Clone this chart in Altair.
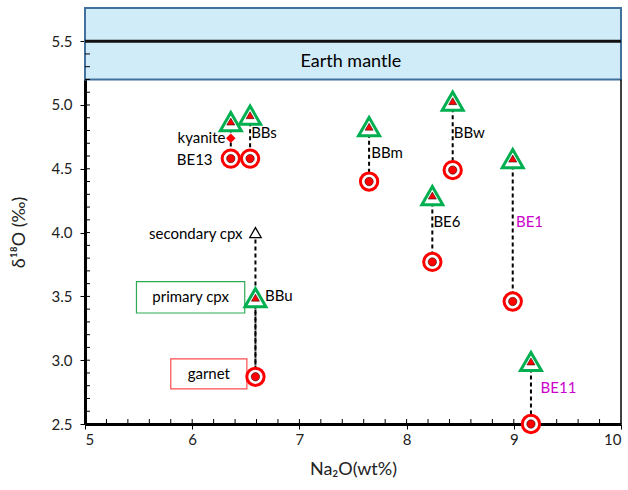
import altair as alt
import pandas as pd

samples = ["BE13", "BBs", "BBm", "BBw", "BE6", "BE1", "BE11", "BBu"]
na2o = [6.36, 6.54, 7.65, 8.43, 8.24, 8.99, 9.16, 6.59]
cpx_d18o = [4.87, 4.92, 4.83, 5.03, 4.29, 4.58, 2.99, 3.49]
grt_d18o = [4.58, 4.58, 4.40, 4.49, 3.77, 3.46, 2.50, 2.87]

sec_cpx_x = [6.59]
sec_cpx_y = [4.00]
kyanite_x = [6.36]
kyanite_y = [4.74]

label_text = ["kyanite", "BE13", "BBs", "BBm", "BBw", "BE6", "BE1", "BE11", "BBu", "secondary cpx"]
label_x = [6.31, 6.19, 6.55, 7.67, 8.44, 8.25, 9.02, 9.25, 6.68, 6.47]
label_y = [4.74, 4.57, 4.78, 4.62, 4.78, 4.08, 4.08, 2.78, 3.50, 3.99]
label_align = ["right", "right", "left", "left", "left", "left", "left", "left", "left", "right"]
label_color = ["black", "black", "black", "black", "black", "black", "#cc00cc", "#cc00cc", "black", "black"]

box_text = ["primary cpx", "garnet"]
box_x1 = [5.48, 5.80]
box_x2 = [6.49, 6.51]
box_y1 = [3.37, 2.775]
box_y2 = [3.615, 3.01]
box_color = ["#2eaa55", "#ff4d4d"]

mantle_lo, mantle_hi, mantle_line = 5.2, 5.76, 5.5
y_ticks = [2.5, 3.0, 3.5, 4.0, 4.5, 5.0, 5.5]
x_ticks = [5, 6, 7, 8, 9, 10]
x_minor = [round(5 + 0.2 * i, 1) for i in range(1, 25)]
y_minor = [round(2.5 + 0.1 * i, 1) for i in range(1, 30)]

FONT = "Lato"
xs = alt.Scale(domain=[5, 10], nice=False, zero=False)
ys = alt.Scale(domain=[2.5, 5.76], nice=False, zero=False)

pairs = pd.DataFrame({"s": samples, "x": na2o, "cpx": cpx_d18o, "grt": grt_d18o})
sec = pd.DataFrame({"x": sec_cpx_x, "y": sec_cpx_y, "g": grt_d18o[-1:]})
kya = pd.DataFrame({"x": kyanite_x, "y": kyanite_y})
labels = pd.DataFrame({"t": label_text, "x": label_x, "y": label_y, "a": label_align, "c": label_color})
boxes = pd.DataFrame({"t": box_text, "x1": box_x1, "x2": box_x2, "y1": box_y1, "y2": box_y2, "c": box_color})
band = pd.DataFrame({"x1": [5], "x2": [10], "y1": [mantle_lo], "y2": [mantle_hi], "yl": [mantle_line]})

band_l = alt.Chart(band).mark_rect(fill="#d0ecf9", stroke="#41719c", strokeWidth=2).encode(
    x=alt.X("x1:Q", scale=xs, axis=alt.Axis(values=x_ticks, title="Na₂O(wt%)", format="d")),
    x2="x2:Q",
    y=alt.Y("y1:Q", scale=ys, axis=alt.Axis(values=y_ticks, title="δ¹⁸O (‰)", format=".1f")),
    y2="y2:Q")
band_line = alt.Chart(band).mark_rule(color="#111", strokeWidth=3).encode(
    x=alt.X("x1:Q", scale=xs), x2="x2:Q", y=alt.Y("yl:Q", scale=ys))
band_text = alt.Chart(pd.DataFrame({"t": ["Earth mantle"], "x": [7.48], "y": [5.335]})).mark_text(
    font=FONT, fontSize=18, color="black").encode(x=alt.X("x:Q", scale=xs), y=alt.Y("y:Q", scale=ys), text="t:N")

right_border = alt.Chart(pd.DataFrame({"x": [10], "y1": [2.5], "y2": [mantle_lo]})).mark_rule(
    color="black", strokeWidth=1.5).encode(x=alt.X("x:Q", scale=xs), y=alt.Y("y1:Q", scale=ys), y2="y2:Q")

xminor = alt.Chart(pd.DataFrame({"x": x_minor})).mark_rule(color="black", strokeWidth=1).encode(
    x=alt.X("x:Q", scale=xs), y=alt.value(411), y2=alt.value(416))
yminor = alt.Chart(pd.DataFrame({"y": y_minor})).mark_rule(color="black", strokeWidth=1).encode(
    y=alt.Y("y:Q", scale=ys), x=alt.value(0), x2=alt.value(5))

dash = alt.Chart(pairs).mark_rule(color="black", strokeWidth=2, strokeDash=[4, 3]).encode(
    x=alt.X("x:Q", scale=xs), y=alt.Y("cpx:Q", scale=ys), y2="grt:Q")
dash2 = alt.Chart(sec).mark_rule(color="black", strokeWidth=2, strokeDash=[4, 3]).encode(
    x=alt.X("x:Q", scale=xs), y=alt.Y("y:Q", scale=ys), y2="g:Q")

tri_o = alt.Chart(pairs).mark_point(shape="triangle-up", size=440, filled=True, fill="white",
                                    stroke="#00b050", strokeWidth=3, opacity=1).encode(
    x=alt.X("x:Q", scale=xs), y=alt.Y("cpx:Q", scale=ys))
tri_i = alt.Chart(pairs).mark_point(shape="triangle-up", size=65, filled=True, fill="red",
                                    stroke="black", strokeWidth=0.5, opacity=1).encode(
    x=alt.X("x:Q", scale=xs), y=alt.Y("cpx:Q", scale=ys))
cir_o = alt.Chart(pairs).mark_point(shape="circle", size=300, filled=True, fill="white",
                                    stroke="red", strokeWidth=3, opacity=1).encode(
    x=alt.X("x:Q", scale=xs), y=alt.Y("grt:Q", scale=ys))
cir_i = alt.Chart(pairs).mark_point(shape="circle", size=70, filled=True, fill="red",
                                    stroke="black", strokeWidth=0.5, opacity=1).encode(
    x=alt.X("x:Q", scale=xs), y=alt.Y("grt:Q", scale=ys))
sec_m = alt.Chart(sec).mark_point(shape="triangle-up", size=130, filled=True, fill="white",
                                  stroke="black", strokeWidth=1.3, opacity=1).encode(
    x=alt.X("x:Q", scale=xs), y=alt.Y("y:Q", scale=ys))
kya_m = alt.Chart(kya).mark_point(shape="diamond", size=45, filled=True, fill="red",
                                  stroke="red", opacity=1).encode(
    x=alt.X("x:Q", scale=xs), y=alt.Y("y:Q", scale=ys))

txt_l = alt.Chart(labels[labels.a == "left"]).mark_text(font=FONT, fontSize=15, align="left",
                                                        baseline="middle").encode(
    x=alt.X("x:Q", scale=xs), y=alt.Y("y:Q", scale=ys), text="t:N",
    color=alt.Color("c:N", scale=None))
txt_r = alt.Chart(labels[labels.a == "right"]).mark_text(font=FONT, fontSize=15, align="right",
                                                         baseline="middle").encode(
    x=alt.X("x:Q", scale=xs), y=alt.Y("y:Q", scale=ys), text="t:N",
    color=alt.Color("c:N", scale=None))

box_r = alt.Chart(boxes).mark_rect(fill="white", strokeWidth=1.2).encode(
    x=alt.X("x1:Q", scale=xs), x2="x2:Q", y=alt.Y("y1:Q", scale=ys), y2="y2:Q",
    stroke=alt.Stroke("c:N", scale=None))
box_t = alt.Chart(boxes).transform_calculate(xm="(datum.x1+datum.x2)/2", ym="(datum.y1+datum.y2)/2").mark_text(
    font=FONT, fontSize=15, color="black", baseline="middle").encode(
    x=alt.X("xm:Q", scale=xs), y=alt.Y("ym:Q", scale=ys), text="t:N")

chart = alt.layer(
    band_l, band_line, band_text, right_border, xminor, yminor,
    dash, dash2, box_r, box_t, tri_o, tri_i, cir_o, cir_i, sec_m, kya_m, txt_l, txt_r
).properties(
    width=536, height=416,
    autosize=alt.AutoSizeParams(type="none"),
    padding={"left": 85, "top": 8, "right": 7, "bottom": 66},
).configure_view(stroke=None).configure_axis(
    grid=False, domainColor="black", domainWidth=3, tickColor="black", tickSize=5, tickWidth=1,
    labelFont=FONT, labelFontSize=15, labelColor="#222", titleFont=FONT, titleFontSize=18,
    titleFontWeight="normal", titleColor="#222",
).configure_axisY(
    labelPadding=8, titleX=-66, titleY=224, titleAngle=270, titleBaseline="middle", titleAlign="center",
).configure_axisX(
    labelPadding=3, titleX=268, titleY=45, titleBaseline="middle", titleAlign="center",
)

chart.save("out.html", embed_options={"renderer": "svg", "actions": False})
